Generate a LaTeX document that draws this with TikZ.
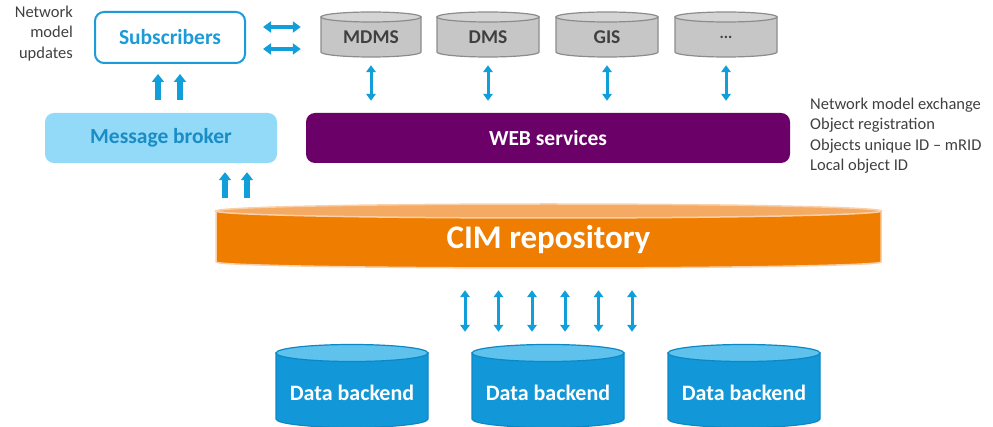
\documentclass[tikz,border=0pt]{standalone}
\usepackage{fontspec}
\setmainfont{Carlito}
\usetikzlibrary{arrows.meta,calc}
\definecolor{arrowblue}{HTML}{119FDB}
\definecolor{subblue}{HTML}{1B9BD7}
\definecolor{brokerfill}{HTML}{92DAF8}
\definecolor{brokertext}{HTML}{1A8CC6}
\definecolor{webpurple}{HTML}{6B0068}
\definecolor{cimorange}{HTML}{EF7D00}
\definecolor{cimtop}{HTML}{F4AA62}
\definecolor{cimedge}{HTML}{F9D0A8}
\definecolor{dbbody}{HTML}{1298D8}
\definecolor{dbtop}{HTML}{5EC2EC}
\definecolor{dbedge}{HTML}{0B88C6}
\definecolor{graybody}{HTML}{C6C6C6}
\definecolor{graytop}{HTML}{D4D4D4}
\definecolor{grayedge}{HTML}{8C8C8C}
\definecolor{darktext}{HTML}{404040}
\newcommand{\drawcyl}[8]{%
  \path[fill=#6,draw=#8,line width=1.2pt] (#1-#2,#3) -- (#1-#2,#4) arc[start angle=180,end angle=0,x radius=#2,y radius=#5] -- (#1+#2,#3) -- cycle;
  \path[fill=#7,draw=#8,line width=1.2pt] (#1,#3) ellipse[x radius=#2,y radius=#5];
}
\begin{document}
\begin{tikzpicture}[x=1pt,y=-1pt,
  lbl/.style={inner sep=0pt, font=\bfseries\fontsize{21.5}{23}\selectfont},
  graylbl/.style={inner sep=0pt, text=darktext, font=\bfseries\fontsize{19.5}{21}\selectfont},
  note/.style={inner sep=0pt, text=darktext, font=\fontsize{16.5}{20.3}\selectfont},
  upar/.style={-{Triangle[width=12pt,length=8pt]}, line width=5.5pt, draw=arrowblue},
  vdbl/.style={{Triangle[width=9.5pt,length=7pt]}-{Triangle[width=9.5pt,length=7pt]}, line width=3pt, draw=arrowblue},
  hdbl/.style={{Triangle[width=11pt,length=8pt]}-{Triangle[width=11pt,length=8pt]}, line width=4.5pt, draw=arrowblue}]
\useasboundingbox (0,0) rectangle (993,427);

% Left annotation
\node[note, align=right, anchor=north east] (nmu) at (73,6) {Network\\model\\updates};

% Subscribers
\node[lbl, draw=subblue, line width=2pt, rounded corners=9pt, text=subblue,
      minimum width=150pt, minimum height=51pt] (subs) at (170,37.5) {Subscribers};

% Message broker
\node[lbl, fill=brokerfill, rounded corners=9pt, text=brokertext,
      minimum width=232pt, minimum height=50pt] (broker) at (161,138) {Message broker};

% WEB services
\node[lbl, fill=webpurple, rounded corners=9pt, text=white,
      minimum width=484pt, minimum height=50pt] (web) at (548,138) {WEB services};

% Gray cylinders
\drawcyl{371}{50}{17}{52}{5}{graybody}{graytop}{grayedge}
\drawcyl{488}{51}{17}{52}{5}{graybody}{graytop}{grayedge}
\drawcyl{607}{51}{17}{52}{5}{graybody}{graytop}{grayedge}
\drawcyl{726}{51}{17}{52}{5}{graybody}{graytop}{grayedge}
\node[graylbl, minimum width=100pt, minimum height=46pt] (mdms) at (371,37) {MDMS};
\node[graylbl, minimum width=102pt, minimum height=46pt] (dms) at (488,37) {DMS};
\node[graylbl, minimum width=102pt, minimum height=46pt] (gis) at (607,37) {GIS};
\node[graylbl, font=\bfseries\fontsize{16}{18}\selectfont, minimum width=102pt, minimum height=46pt] (etc) at (726,37) {...};

% Right annotation
\node[note, align=left, anchor=north west] (wsnote) at (810,98)
  {Network model exchange\\Object registration\\Objects unique ID -- mRID\\Local object ID};

% CIM repository
\path[fill=cimorange,draw=cimedge,line width=1.5pt] (216,211) -- (216,262) arc[start angle=180,end angle=0,x radius=332.5,y radius=6] -- (881,211) -- cycle;
\path[fill=cimtop,draw=cimedge,line width=1.5pt] (548.5,211) ellipse[x radius=332.5,y radius=7];
\node[inner sep=0pt, text=white, font=\bfseries\fontsize{33}{35}\selectfont,
      minimum width=665pt, minimum height=58pt] (cim) at (548.5,240) {CIM repository};

% Data backends
\foreach \cx/\nm in {352/db1, 548/db2, 744/db3}{
  \drawcyl{\cx}{76}{353}{419}{8.5}{dbbody}{dbtop}{dbedge}
  \node[lbl, text=white, font=\bfseries\fontsize{22}{24}\selectfont,
        minimum width=152pt, minimum height=84pt] (\nm) at (\cx,393) {Data backend};
}

% Arrows: subscribers <-> systems
\draw[hdbl, shorten <=17pt, shorten >=20pt] ([yshift=10.5pt]subs.east) -- ([yshift=10.5pt]subs.east -| mdms.west);
\draw[hdbl, shorten <=17pt, shorten >=20pt] ([yshift=-11.5pt]subs.east) -- ([yshift=-11.5pt]subs.east -| mdms.west);

% broker -> subscribers
\draw[upar, shorten <=13pt, shorten >=10pt] ([xshift=-12pt]subs.south |- broker.north) -- ([xshift=-12pt]subs.south);
\draw[upar, shorten <=13pt, shorten >=10pt] ([xshift=10pt]subs.south |- broker.north) -- ([xshift=10pt]subs.south);

% CIM -> broker
\draw[upar, shorten <=13pt, shorten >=9pt] ([xshift=64pt]broker.south |- cim.north) -- ([xshift=64pt]broker.south);
\draw[upar, shorten <=13pt, shorten >=9pt] ([xshift=86pt]broker.south |- cim.north) -- ([xshift=86pt]broker.south);

% systems <-> web services
\foreach \n in {mdms,dms,gis,etc}{
  \draw[vdbl, shorten <=5pt, shorten >=12pt] (\n.south) -- (\n.south |- web.north);
}

% CIM <-> data backends
\foreach \d in {-83.5,-50,-16.5,16.5,50,83.5}{
  \draw[vdbl, shorten <=21pt, shorten >=19pt] ([xshift=\d pt]cim.south) -- ([xshift=\d pt]cim.south |- db2.north);
}
\end{tikzpicture}
\end{document}
